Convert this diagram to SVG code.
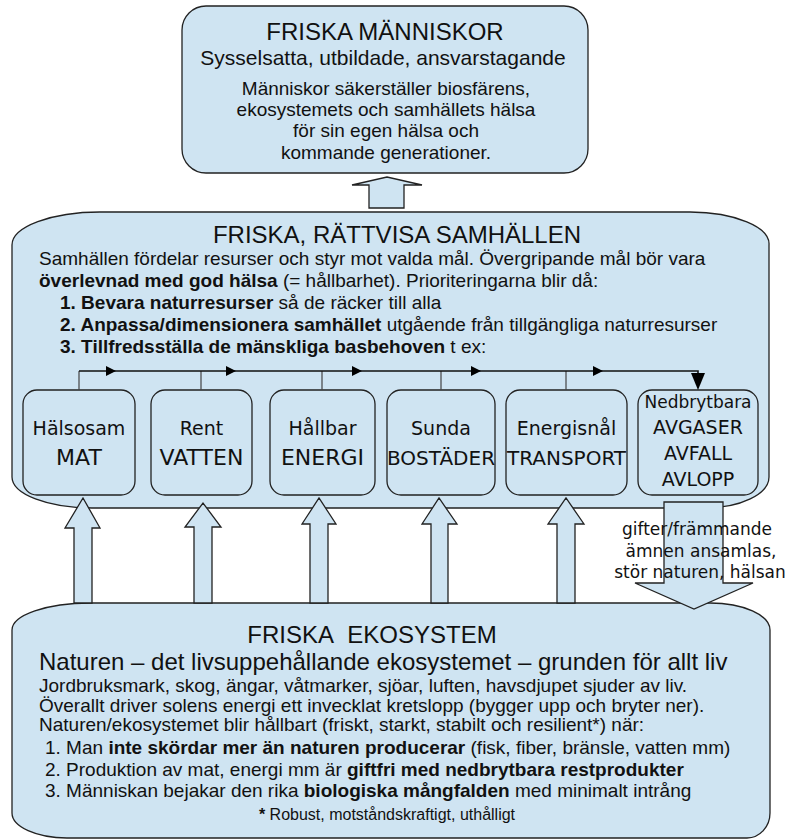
<svg xmlns="http://www.w3.org/2000/svg" width="790" height="840" viewBox="0 0 790 840">
<style>
.box{fill:#cfe4f2;stroke:#222;stroke-width:1.3}
.t{font-family:"Liberation Sans",Arial,sans-serif;fill:#111}
.d{font-family:"DejaVu Sans",sans-serif;fill:#111}
.b{font-weight:bold}
.c{text-anchor:middle}
.conn{fill:none;stroke:#111;stroke-width:1.6}
.stub{fill:none;stroke:#444;stroke-width:1.2}
.ah{fill:#000}
</style>
<rect width="790" height="840" fill="#fff"/>

<g id="samhallen">
<path class="box" d="M100 212 L690 212 A80 32 0 0 1 769 245 L769 477 A64 31 0 0 1 705 508 L92 508 A80 31 0 0 1 12 477 L12 245 A88 33 0 0 1 100 212 Z"/>
<text class="t c" x="397" y="243" font-size="24">FRISKA, RÄTTVISA SAMHÄLLEN</text>
<text class="t" x="39" y="265" font-size="19">Samhällen fördelar resurser och styr mot valda mål. Övergripande mål bör vara</text>
<text class="t" x="39" y="287" font-size="19"><tspan class="b">överlevnad med god hälsa</tspan><tspan> (= hållbarhet). Prioriteringarna blir då:</tspan></text>
<text class="t" x="60" y="309" font-size="19"><tspan class="b">1. Bevara naturresurser</tspan><tspan> så de räcker till alla</tspan></text>
<text class="t" x="60" y="331" font-size="19"><tspan class="b">2. Anpassa/dimensionera samhället</tspan><tspan> utgående från tillgängliga naturresurser</tspan></text>
<text class="t" x="60" y="353" font-size="19"><tspan class="b">3. Tillfredsställa de mänskliga basbehoven</tspan><tspan> t ex:</tspan></text>
</g>

<g id="mat">
<rect class="box" x="23" y="390" width="112" height="105" rx="14"/>
<text class="d c" x="79" y="435" font-size="19">Hälsosam</text>
<text class="d c" x="79" y="465" font-size="22">MAT</text>
</g>
<g id="vatten">
<rect class="box" x="151" y="390" width="101" height="105" rx="14"/>
<text class="d c" x="201.5" y="435" font-size="19">Rent</text>
<text class="d c" x="201.5" y="465" font-size="22">VATTEN</text>
</g>
<g id="energi">
<rect class="box" x="270" y="390" width="105" height="105" rx="14"/>
<text class="d c" x="322.5" y="435" font-size="19">Hållbar</text>
<text class="d c" x="322.5" y="465" font-size="22">ENERGI</text>
</g>
<g id="bostader">
<rect class="box" x="387" y="390" width="108" height="105" rx="14"/>
<text class="d c" x="441" y="435" font-size="19">Sunda</text>
<text class="d c" x="441" y="465" font-size="20">BOSTÄDER</text>
</g>
<g id="transport">
<rect class="box" x="506" y="390" width="121" height="105" rx="14"/>
<text class="d c" x="566.5" y="435" font-size="19">Energisnål</text>
<text class="d c" x="566.5" y="465" font-size="20">TRANSPORT</text>
</g>
<g id="avfall">
<rect class="box" x="638" y="390" width="120" height="105" rx="14"/>
<text class="d c" x="698" y="408" font-size="17">Nedbrytbara</text>
<text class="d c" x="698" y="434" font-size="19">AVGASER</text>
<text class="d c" x="698" y="460" font-size="19">AVFALL</text>
<text class="d c" x="698" y="486" font-size="19">AVLOPP</text>
</g>

<g id="manniskor">
<rect class="box" x="182" y="6" width="406" height="167" rx="24"/>
<text class="t c" x="385" y="40" font-size="24">FRISKA MÄNNISKOR</text>
<text class="t c" x="383" y="65" font-size="21">Sysselsatta, utbildade, ansvarstagande</text>
<text class="t c" x="386" y="95" font-size="19">Människor säkerställer biosfärens,</text>
<text class="t c" x="386" y="116" font-size="19">ekosystemets och samhällets hälsa</text>
<text class="t c" x="386" y="137" font-size="19">för sin egen hälsa och</text>
<text class="t c" x="386" y="159" font-size="19">kommande generationer.</text>
</g>

<g id="ekosystem">
<path class="box" d="M90 603 L710 603 A60 27 0 0 1 770 630 L770 813 A23 25 0 0 1 747 838 L67 838 A55 25 0 0 1 12 813 L12 630 A78 27 0 0 1 90 603 Z"/>
<text class="t c" x="372" y="643" font-size="24">FRISKA&#160; EKOSYSTEM</text>
<text class="t" x="39" y="670" font-size="24">Naturen – det livsuppehållande ekosystemet – grunden för allt liv</text>
<text class="t" x="39" y="692" font-size="19">Jordbruksmark, skog, ängar, våtmarker, sjöar, luften, havsdjupet sjuder av liv.</text>
<text class="t" x="39" y="712" font-size="19">Överallt driver solens energi ett invecklat kretslopp (bygger upp och bryter ner).</text>
<text class="t" x="39" y="731" font-size="19">Naturen/ekosystemet blir hållbart (friskt, starkt, stabilt och resilient*) när:</text>
<text class="t" x="45" y="754" font-size="19"><tspan>1. Man </tspan><tspan class="b">inte skördar mer än naturen producerar</tspan><tspan> (fisk, fiber, bränsle, vatten mm)</tspan></text>
<text class="t" x="45" y="776" font-size="19"><tspan>2. Produktion av mat, energi mm är </tspan><tspan class="b">giftfri med nedbrytbara restprodukter</tspan></text>
<text class="t" x="45" y="797" font-size="19"><tspan>3. Människan bejakar den rika </tspan><tspan class="b">biologiska mångfalden</tspan><tspan> med minimalt intrång</tspan></text>
<text class="t c" x="387" y="820" font-size="16"><tspan class="b">*</tspan><tspan> Robust, motståndskraftigt, uthålligt</tspan></text>
</g>

<g id="connectors">
<path class="stub" d="M79 390V371M201 390V371M322 390V371M441 390V371M566 390V371"/>
<path class="conn" d="M79 371H698V378"/>
<polygon class="ah" points="106,366 116,371 106,376"/>
<polygon class="ah" points="226,366 236,371 226,376"/>
<polygon class="ah" points="352,366 362,371 352,376"/>
<polygon class="ah" points="471,366 481,371 471,376"/>
<polygon class="ah" points="593,366 603,371 593,376"/>
<polygon class="ah" points="691,373 705,373 698,390"/>
<polygon class="box" points="369,208 369,185 352,185 387,177 422,185 404,185 404,208"/>
<polygon class="box" points="74,603 74,528 65,528 83,498 100,528 92,528 92,603"/>
<polygon class="box" points="194,603 194,527 185,527 203,503 221,527 212,527 212,603"/>
<polygon class="box" points="310,603 310,524 302,524 319,498 336,524 328,524 328,603"/>
<polygon class="box" points="431,603 431,524 422,524 439,498 457,524 448,524 448,603"/>
<polygon class="box" points="557,603 557,524 548,524 566,498 584,524 575,524 575,603"/>
<polygon class="box" points="664,502 723,502 723,583 753,583 694,609 635,583 664,583"/>
<text class="d c" x="697" y="535" font-size="17">gifter/främmande</text>
<text class="d c" x="701" y="557" font-size="17">ämnen ansamlas,</text>
<text class="d c" x="700" y="578" font-size="17">stör naturen, hälsan</text>
</g>
</svg>
